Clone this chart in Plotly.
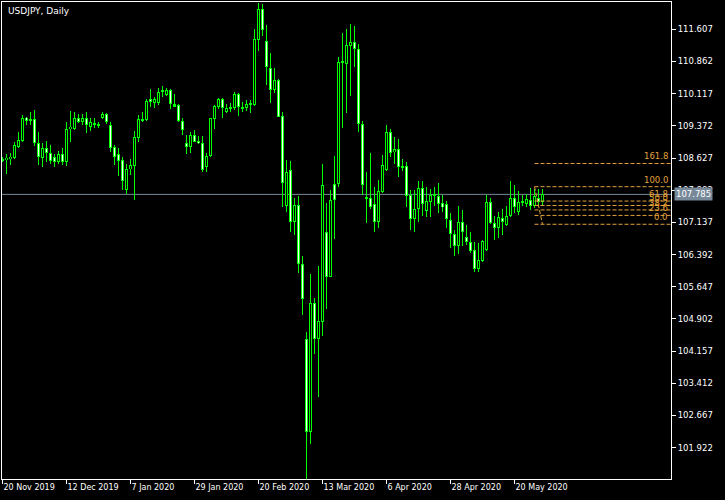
import plotly.graph_objects as go

# ---------------- data ----------------
tick_idx = [0, 16, 32, 48, 64, 80, 96, 112, 128]
tick_labels = ["20 Nov 2019", "12 Dec 2019", "7 Jan 2020", "29 Jan 2020", "20 Feb 2020",
               "13 Mar 2020", "6 Apr 2020", "28 Apr 2020", "20 May 2020"]

opens = [108.58, 108.58, 108.60, 108.63, 108.89, 109.02, 109.56, 109.49, 109.53, 108.97,
         108.62, 108.85, 108.75, 108.64, 108.54, 108.72, 108.54, 109.29, 109.30, 109.55,
         109.47, 109.55, 109.35, 109.44, 109.41, 109.55, 109.65, 109.39, 108.89, 108.72,
         108.58, 107.89, 108.37, 108.45, 109.10, 109.53, 109.51, 109.99, 109.89, 109.89,
         110.16, 110.09, 110.20, 109.87, 109.85, 109.49, 108.97, 108.89, 109.16, 109.02,
         108.97, 108.43, 108.68, 109.52, 109.81, 109.99, 109.69, 109.78, 109.78, 110.10,
         109.80, 109.79, 109.87, 109.85, 111.36, 112.07, 111.33, 110.70, 110.20, 110.43,
         109.59, 107.52, 108.34, 107.14, 107.54, 106.17, 104.43, 102.28, 105.26, 104.43,
         104.82, 106.91, 105.88, 108.02, 108.02, 110.84, 110.80, 111.23, 111.31, 111.14,
         109.41, 107.72, 107.69, 107.56, 107.15, 107.85, 108.36, 109.22, 108.76, 108.83,
         108.41, 108.44, 107.77, 107.21, 107.44, 107.93, 107.41, 107.62, 107.75, 107.74,
         107.58, 107.56, 107.19, 106.86, 106.60, 107.14, 106.79, 106.68, 106.50, 106.06,
         106.25, 106.50, 107.60, 107.12, 107.01, 107.25, 107.08, 107.29, 107.69, 107.38,
         107.60, 107.56, 107.66, 107.52, 107.71, 107.60]
highs = [108.65, 108.72, 108.74, 109.00, 109.24, 109.62, 109.58, 109.69, 109.74, 109.22,
         108.97, 109.02, 108.93, 108.72, 108.80, 108.85, 109.45, 109.72, 109.70, 109.65,
         109.65, 109.69, 109.55, 109.55, 109.47, 109.69, 109.66, 109.47, 108.93, 108.85,
         108.66, 108.50, 108.60, 109.25, 109.62, 109.69, 109.99, 110.23, 110.05, 110.24,
         110.29, 110.24, 110.22, 110.11, 109.88, 109.55, 109.16, 109.24, 109.28, 109.14,
         109.14, 108.74, 109.56, 109.85, 110.02, 110.02, 109.88, 109.89, 110.15, 110.13,
         109.92, 109.97, 109.97, 111.61, 112.22, 112.19, 111.71, 111.05, 110.70, 110.46,
         109.69, 108.58, 108.56, 107.69, 107.75, 106.36, 104.61, 105.94, 105.39, 106.13,
         108.50, 107.59, 107.89, 108.67, 110.96, 111.52, 111.61, 111.73, 111.68, 111.26,
         109.48, 108.30, 108.74, 107.95, 108.12, 108.70, 109.39, 109.30, 109.12, 109.07,
         108.60, 108.53, 107.89, 107.89, 108.09, 108.09, 107.95, 107.90, 107.95, 108.04,
         107.77, 107.63, 107.35, 106.96, 107.52, 107.42, 107.08, 106.91, 106.69, 106.67,
         106.74, 107.77, 107.69, 107.28, 107.37, 107.45, 107.52, 108.09, 108.00, 107.86,
         107.77, 107.79, 107.93, 107.90, 107.90, 107.90]
lows = [108.54, 108.26, 108.47, 108.60, 108.85, 109.00, 109.39, 109.38, 108.90, 108.47,
        108.43, 108.54, 108.48, 108.43, 108.50, 108.47, 108.44, 109.00, 109.28, 109.43,
        109.39, 109.20, 109.26, 109.33, 109.33, 109.53, 109.41, 108.77, 108.47, 108.22,
        107.89, 107.79, 108.23, 107.66, 109.00, 109.45, 109.49, 109.81, 109.78, 109.85,
        110.05, 110.07, 109.76, 109.80, 109.47, 109.16, 108.72, 108.74, 108.99, 108.95,
        108.31, 108.31, 108.66, 109.30, 109.76, 109.55, 109.66, 109.70, 109.75, 109.61,
        109.70, 109.72, 109.66, 109.84, 111.11, 111.46, 110.32, 109.89, 110.13, 109.57,
        107.50, 107.37, 106.92, 106.84, 105.97, 104.99, 101.18, 102.01, 104.09, 103.10,
        104.51, 105.13, 105.87, 106.75, 107.96, 109.33, 109.67, 110.07, 110.74, 109.22,
        107.77, 107.13, 107.45, 106.92, 107.01, 107.81, 108.33, 108.66, 108.50, 108.19,
        108.33, 107.50, 106.96, 106.92, 107.15, 107.29, 107.27, 107.27, 107.52, 107.35,
        107.38, 107.00, 106.55, 106.36, 106.40, 106.60, 106.61, 106.42, 105.99, 105.99,
        106.23, 106.47, 107.10, 106.73, 106.78, 106.84, 107.05, 107.27, 107.35, 107.31,
        107.52, 107.50, 107.42, 107.46, 107.54, 107.52]
closes = [108.60, 108.63, 108.66, 108.93, 109.04, 109.55, 109.49, 109.52, 108.97, 108.64,
          108.85, 108.75, 108.56, 108.54, 108.72, 108.54, 109.29, 109.35, 109.56, 109.47,
          109.55, 109.38, 109.45, 109.41, 109.37, 109.65, 109.47, 108.87, 108.66, 108.56,
          108.10, 108.37, 108.46, 109.12, 109.53, 109.50, 109.95, 109.93, 109.99, 110.16,
          110.18, 110.20, 109.87, 109.83, 109.49, 109.28, 108.89, 109.16, 109.00, 108.97,
          108.35, 108.67, 109.55, 109.83, 109.99, 109.78, 109.79, 109.81, 110.10, 109.81,
          109.77, 109.87, 109.86, 111.38, 112.07, 111.59, 110.73, 110.20, 110.43, 109.58,
          108.06, 108.30, 107.14, 107.54, 106.17, 105.36, 102.28, 105.26, 104.43, 104.85,
          108.00, 105.88, 107.66, 107.66, 110.84, 110.87, 111.24, 111.31, 111.14, 109.41,
          108.00, 107.69, 107.49, 107.15, 107.86, 108.46, 109.22, 108.74, 108.83, 108.41,
          108.44, 107.75, 107.21, 107.44, 107.93, 107.56, 107.63, 107.77, 107.78, 107.56,
          107.49, 107.21, 106.86, 106.60, 107.14, 106.92, 106.68, 106.48, 106.06, 106.27,
          106.70, 107.60, 107.12, 107.01, 107.27, 107.15, 107.29, 107.69, 107.49, 107.60,
          107.63, 107.68, 107.52, 107.75, 107.60, 107.785]

y_ticks = [111.607, 110.862, 110.117, 109.372, 108.627, 107.882, 107.137,
           106.392, 105.647, 104.902, 104.157, 103.412, 102.667, 101.922]
bid_price = 107.785

fib_low = 107.093
fib_high = 107.963
fib_levels = [0.0, 23.6, 38.2, 50.0, 61.8, 100.0, 161.8]
fib_start_bar = 133
fib_end_bar = 135

# ---------------- figure ----------------
GREEN = "#00FF00"
FIB = "#E3A23B"
BID = "#778899"
X_MIN, X_MAX = -0.125, 167.125
Y_MIN, Y_MAX = 101.196, 112.239
W, H = 725, 500
M = dict(l=2, r=54, t=2, b=21)
PLOT_H = H - M["t"] - M["b"]
PX = (Y_MAX - Y_MIN) / PLOT_H  # one screen pixel in price units

n = len(opens)
idx = list(range(n))

fig = go.Figure()
# wicks (drawn in the bar layer so that bodies cover them)
fig.add_trace(go.Bar(x=idx, base=lows, y=[highs[i] - lows[i] for i in idx], width=0.25,
                     marker=dict(color=GREEN, line=dict(width=0)), hoverinfo="skip"))
# body outlines
body_lo = [min(opens[i], closes[i]) for i in idx]
body_h = [max(abs(closes[i] - opens[i]), PX) for i in idx]
fig.add_trace(go.Bar(x=idx, base=body_lo, y=body_h, width=0.75,
                     marker=dict(color=GREEN, line=dict(width=0)), hoverinfo="skip"))
# body interiors: black for rising, white for falling
for rising, fill in ((True, "black"), (False, "white")):
    ids = [i for i in idx if (closes[i] >= opens[i]) == rising and abs(closes[i] - opens[i]) > 2 * PX]
    fig.add_trace(go.Bar(x=ids, base=[body_lo[i] + PX for i in ids],
                         y=[abs(closes[i] - opens[i]) - 2 * PX for i in ids], width=0.25,
                         marker=dict(color=fill, line=dict(width=0)), hoverinfo="skip"))

shapes = []
shapes.append(dict(type="line", xref="paper", x0=0, x1=1, yref="y", y0=bid_price, y1=bid_price,
                   line=dict(color=BID, width=1), layer="below"))
annotations = []
fib_range = fib_high - fib_low
for lv in fib_levels:
    p = fib_low + fib_range * lv / 100.0
    shapes.append(dict(type="line", xref="x", x0=fib_start_bar, x1=X_MAX, yref="y", y0=p, y1=p,
                       line=dict(color=FIB, width=1, dash="4px,2px")))
    annotations.append(dict(x=X_MAX, xref="x", y=p, yref="y", text=f"{lv:.1f}",
                            showarrow=False, xanchor="right", yanchor="bottom", xshift=-1,
                            yshift=0, font=dict(color=FIB, size=8.5, family="DejaVu Sans")))
shapes.append(dict(type="line", xref="x", yref="y", x0=fib_start_bar, y0=fib_high,
                   x1=fib_end_bar, y1=fib_low, line=dict(color=FIB, width=1, dash="4px,2px")))

annotations.append(dict(x=0, xref="paper", y=1, yref="paper", text="USDJPY, Daily",
                        showarrow=False, xanchor="left", yanchor="top", xshift=4, yshift=-2,
                        font=dict(color="white", size=9, family="DejaVu Sans")))
annotations.append(dict(x=1, xref="paper", y=bid_price, yref="y", text=f"{bid_price:.3f}",
                        showarrow=False, xanchor="left", yanchor="middle", xshift=3,
                        bgcolor=BID, borderpad=1,
                        font=dict(color="white", size=8.5, family="DejaVu Sans")))

fig.update_layout(
    width=W, height=H, margin=M,
    paper_bgcolor="black", plot_bgcolor="black",
    showlegend=False, barmode="overlay", bargap=0,
    font=dict(family="DejaVu Sans", size=8, color="white"),
    shapes=shapes, annotations=annotations,
)
fig.update_xaxes(range=[X_MIN, X_MAX], showgrid=False, zeroline=False,
                 showline=True, linecolor="white", linewidth=1, mirror=True,
                 tickmode="array", tickvals=tick_idx, ticktext=tick_labels,
                 ticks="outside", ticklen=4, tickcolor="white",
                 ticklabelposition="outside right",
                 tickfont=dict(size=8, color="white", family="DejaVu Sans"),
                 fixedrange=True)
fig.update_yaxes(side="right", range=[Y_MIN, Y_MAX], showgrid=False, zeroline=False,
                 showline=True, linecolor="white", linewidth=1, mirror=True,
                 tickmode="array", tickvals=y_ticks, ticktext=[f"{v:.3f}" for v in y_ticks],
                 ticks="outside", ticklen=4, tickcolor="white",
                 tickfont=dict(size=8.5, color="white", family="DejaVu Sans"),
                 fixedrange=True)

fig.write_html("out.html", config={"displayModeBar": False},
               post_script="document.body.style.margin='0';document.body.style.background='black';")
